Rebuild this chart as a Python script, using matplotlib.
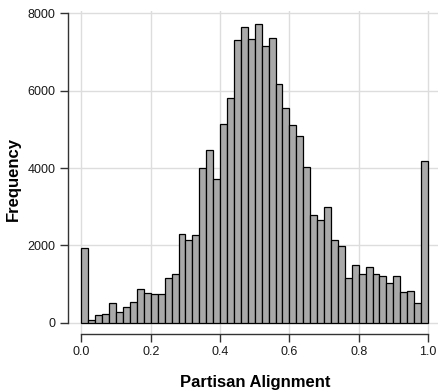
import matplotlib
matplotlib.use("Agg")
import matplotlib.pyplot as plt
import numpy as np

plt.rcParams['font.family'] = ['Liberation Sans', 'DejaVu Sans']

# histogram counts, 50 bins of width 0.02 over [0, 1]
bin_edges = np.linspace(0, 1, 51)
counts = [1920, 70, 190, 215, 500, 285, 415, 545, 860, 760,
          750, 740, 1165, 1270, 2285, 2145, 2260, 4010, 4475, 3725,
          5130, 5800, 7300, 7655, 7335, 7730, 7165, 7360, 6165, 5550,
          5120, 4835, 4017, 2785, 2645, 3000, 2130, 1975, 1145, 1490,
          1265, 1430, 1265, 1215, 1035, 1215, 795, 810, 515, 4170]

x_ticks = [0.0, 0.2, 0.4, 0.6, 0.8, 1.0]
x_labels = ["0.0", "0.2", "0.4", "0.6", "0.8", "1.0"]
y_ticks = [0, 2000, 4000, 6000, 8000]

fig = plt.figure(figsize=(4.38, 3.91), dpi=100)
ax = fig.add_axes([67.5 / 438, 57 / 391, (438 - 67.5) / 438, (334 - 11) / 391])

ax.bar(bin_edges[:-1], counts, width=0.02, align='edge',
       color='#A9A9A9', edgecolor='black', linewidth=0.9, zorder=3)

ax.set_xlim(-0.0404, 1.029)
ax.set_ylim(-292, 8060)

ax.set_xticks(x_ticks)
ax.set_xticklabels(x_labels)
ax.set_yticks(y_ticks)

ax.grid(True, color='#DDDDDD', linewidth=1.0, zorder=0)

for s in ['top', 'right']:
    ax.spines[s].set_visible(False)
ax.spines['left'].set_bounds(0, 8000)
ax.spines['bottom'].set_bounds(0, 1)
for s in ['left', 'bottom']:
    ax.spines[s].set_color('#333333')
    ax.spines[s].set_linewidth(1.0)

ax.tick_params(axis='both', length=5.5, width=1.0, color='#333333',
               labelsize=9, labelcolor='#1a1a1a')
ax.tick_params(axis='y', pad=3)
ax.tick_params(axis='x', pad=3)

fig.text(0.5 * (81.5 + 428) / 438, 1 - 382 / 391, "Partisan Alignment",
         ha='center', va='center', fontsize=12, fontweight='bold')
fig.text(13 / 438, 1 - 179 / 391, "Frequency", rotation=90,
         ha='center', va='center', fontsize=12, fontweight='bold')

fig.savefig("out.png", dpi=100)
